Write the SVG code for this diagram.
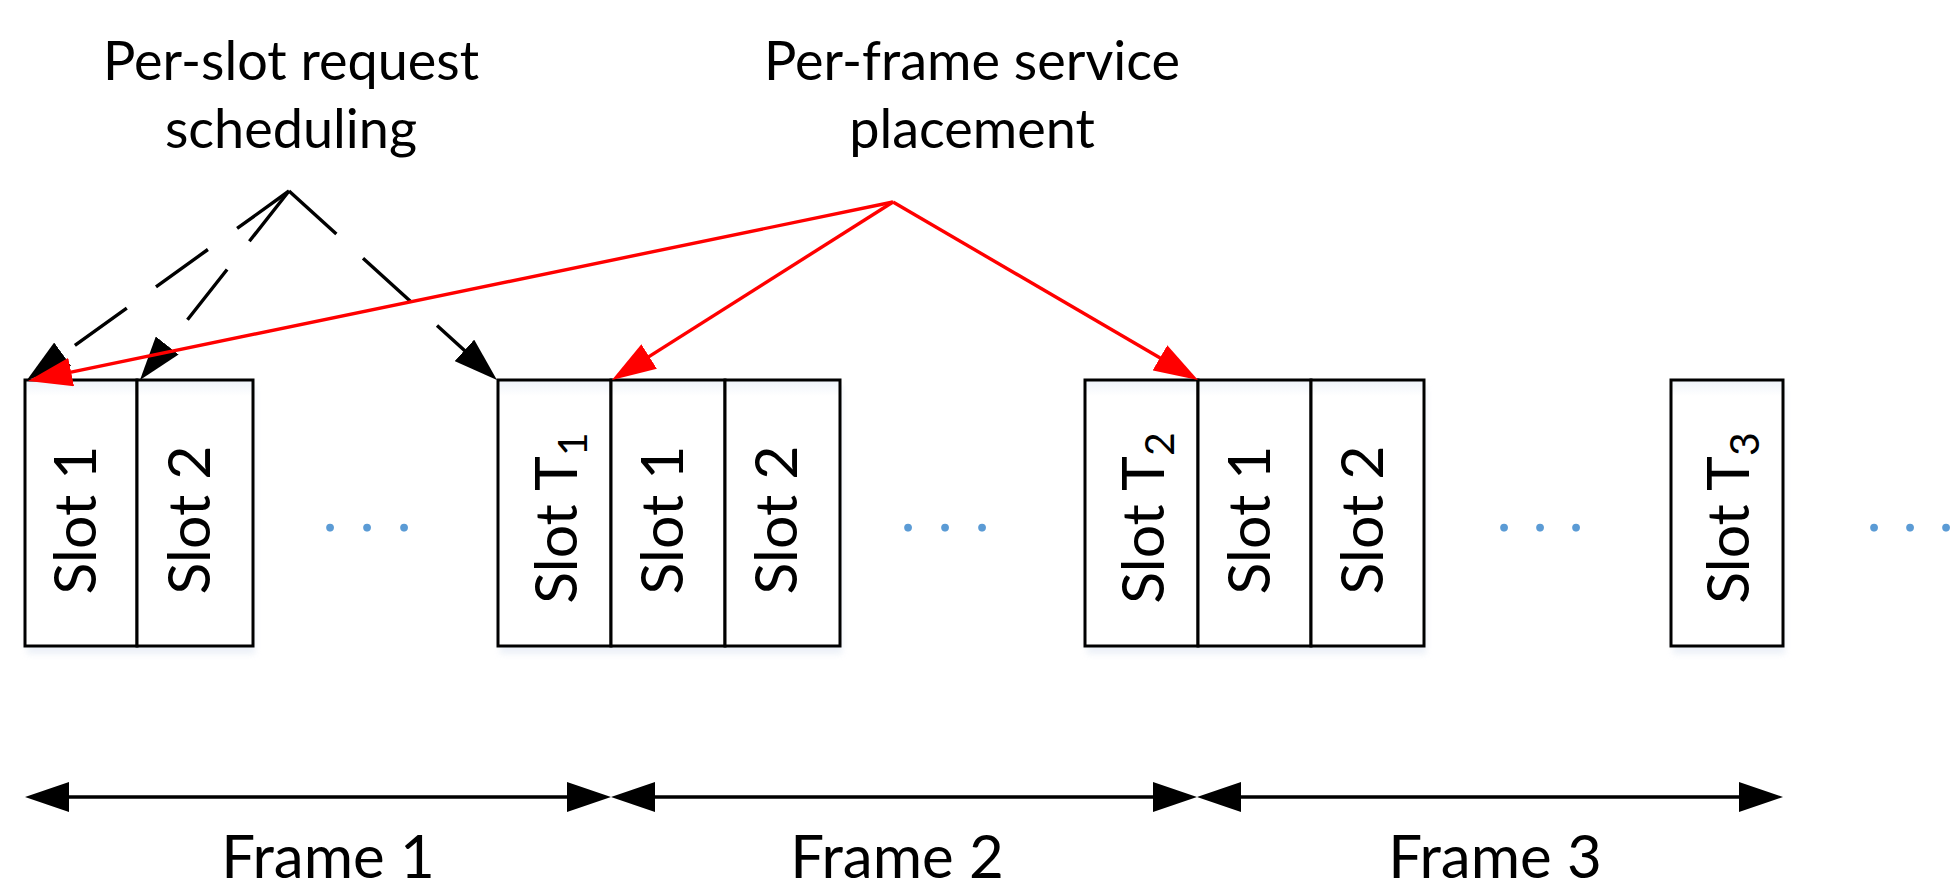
<svg xmlns="http://www.w3.org/2000/svg" width="1954" height="891" viewBox="0 0 1954 891">
  <style>
    .lbl { font-family: Lato, "Liberation Sans", sans-serif; fill: #000; }
    .title { font-size: 54px; text-anchor: middle; }
    .frame { font-size: 60px; text-anchor: middle; }
    .slot { font-size: 59px; text-anchor: middle; }
    .sub { font-size: 41px; }
    .cell { fill: url(#cellfill); stroke: #000; stroke-width: 3; }
    .shadow { fill: #dde5f2; opacity: 0.55; filter: url(#blur); }
    .dash { fill: none; stroke: #000; stroke-width: 3.4; stroke-dasharray: 64 36; marker-end: url(#ahK); }
    .red { fill: none; stroke: #ff0000; stroke-width: 3.4; marker-end: url(#ahR); }
    .span { fill: none; stroke: #000; stroke-width: 3.4; marker-start: url(#ahB); marker-end: url(#ahB); }
    .dots { font-family: Lato, "Liberation Sans", sans-serif; font-size: 62px; fill: #5b9bd5; text-anchor: middle; }
  </style>
  <defs>
    <linearGradient id="cellfill" x1="0" y1="0" x2="0" y2="1">
      <stop offset="0" stop-color="#eef3fa"/>
      <stop offset="0.06" stop-color="#ffffff"/>
      <stop offset="1" stop-color="#ffffff"/>
    </linearGradient>
    <filter id="blur" x="-10%" y="-10%" width="120%" height="120%">
      <feGaussianBlur stdDeviation="3"/>
    </filter>
    <marker id="ahK" viewBox="0 0 44 29" refX="32" refY="14.5" markerWidth="44" markerHeight="29" markerUnits="userSpaceOnUse" orient="auto">
      <path d="M0,0 L44,14.5 L0,29 Z" fill="#000"/>
    </marker>
    <marker id="ahR" viewBox="0 0 44 29" refX="32" refY="14.5" markerWidth="44" markerHeight="29" markerUnits="userSpaceOnUse" orient="auto">
      <path d="M0,0 L44,14.5 L0,29 Z" fill="#ff0000"/>
    </marker>
    <marker id="ahB" viewBox="0 0 44 30" refX="32" refY="15" markerWidth="44" markerHeight="30" markerUnits="userSpaceOnUse" orient="auto-start-reverse">
      <path d="M0,0 L44,15 L0,30 Z" fill="#000"/>
    </marker>
  </defs>

  <rect width="1954" height="891" fill="#ffffff"/>

  <!-- shadows -->
  <g id="shadows">
    <rect class="shadow" x="27" y="386" width="228" height="268"/>
    <rect class="shadow" x="500" y="386" width="342" height="268"/>
    <rect class="shadow" x="1087" y="386" width="339" height="268"/>
    <rect class="shadow" x="1673" y="386" width="112" height="268"/>
  </g>

  <!-- labels -->
  <g id="label-scheduling">
    <text class="lbl title" x="291" y="80">Per-slot request</text>
    <text class="lbl title" x="291" y="148">scheduling</text>
  </g>
  <g id="label-placement">
    <text class="lbl title" x="972" y="80">Per-frame service</text>
    <text class="lbl title" x="972" y="148">placement</text>
  </g>

  <!-- slot cells -->
  <g id="f1-slot1">
    <rect class="cell" x="25" y="380" width="112" height="266"/>
    <text class="lbl slot" transform="translate(96,520) rotate(-90)">Slot 1</text>
  </g>
  <g id="f1-slot2">
    <rect class="cell" x="137" y="380" width="116" height="266"/>
    <text class="lbl slot" transform="translate(210,520) rotate(-90)">Slot 2</text>
  </g>
  <g id="f1-slotT1">
    <rect class="cell" x="498" y="380" width="113" height="266"/>
    <text class="lbl slot" transform="translate(577,518) rotate(-90)">Slot T<tspan class="sub" dy="10">1</tspan></text>
  </g>
  <g id="f2-slot1">
    <rect class="cell" x="611" y="380" width="114" height="266"/>
    <text class="lbl slot" transform="translate(683,520) rotate(-90)">Slot 1</text>
  </g>
  <g id="f2-slot2">
    <rect class="cell" x="725" y="380" width="115" height="266"/>
    <text class="lbl slot" transform="translate(797,520) rotate(-90)">Slot 2</text>
  </g>
  <g id="f2-slotT2">
    <rect class="cell" x="1085" y="380" width="113" height="266"/>
    <text class="lbl slot" transform="translate(1164,518) rotate(-90)">Slot T<tspan class="sub" dy="10">2</tspan></text>
  </g>
  <g id="f3-slot1">
    <rect class="cell" x="1198" y="380" width="113" height="266"/>
    <text class="lbl slot" transform="translate(1270,520) rotate(-90)">Slot 1</text>
  </g>
  <g id="f3-slot2">
    <rect class="cell" x="1311" y="380" width="113" height="266"/>
    <text class="lbl slot" transform="translate(1383,520) rotate(-90)">Slot 2</text>
  </g>
  <g id="f3-slotT3">
    <rect class="cell" x="1671" y="380" width="112" height="266"/>
    <text class="lbl slot" transform="translate(1749,518) rotate(-90)">Slot T<tspan class="sub" dy="10">3</tspan></text>
  </g>

  <!-- ellipses -->
  <g id="ellipses">
    <text class="dots" x="330 367 404" y="531">...</text>
    <text class="dots" x="908 945 982" y="531">...</text>
    <text class="dots" x="1504 1540 1576" y="531">...</text>
    <text class="dots" x="1874 1910 1946" y="531">...</text>
  </g>

  <!-- frame labels -->
  <g id="frame-labels">
    <text class="lbl frame" x="328" y="878">Frame 1</text>
    <text class="lbl frame" x="897" y="878">Frame 2</text>
    <text class="lbl frame" x="1495" y="878">Frame 3</text>
  </g>

  <!-- connectors -->
  <g id="connectors">
    <path class="dash" d="M289,191 L36.7,373"/>
    <path class="dash" d="M289,191 L147.4,370.6"/>
    <path class="dash" d="M289,191 L488.1,371.9"/>
    <path class="red" d="M893,202 L39.8,378.6"/>
    <path class="red" d="M893,202 L622.1,373.6"/>
    <path class="red" d="M893,202 L1187.6,374"/>
    <path class="span" d="M37,797 L599,797"/>
    <path class="span" d="M623,797 L1185,797"/>
    <path class="span" d="M1209,797 L1771,797"/>
  </g>
</svg>
